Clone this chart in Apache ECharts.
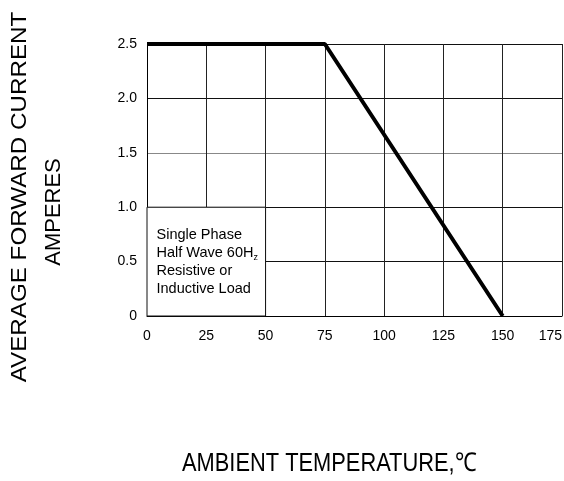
<!DOCTYPE html>
<html>
<head>
<meta charset="utf-8">
<script src="https://cdn.jsdelivr.net/npm/echarts@6/dist/echarts.min.js"></script>
<style>
html,body{margin:0;padding:0;background:#fff;}
#chart{width:564px;height:481px;}
</style>
</head>
<body>
<div id="chart"></div>
<script>
// Data
const tempPoints = [0, 75, 150];
const currentValues = [2.5, 2.5, 0];
const xTicks = [0, 25, 50, 75, 100, 125, 150, 175];
const yTicks = [0, 0.5, 1.0, 1.5, 2.0, 2.5];
const yTickLabels = ['0', '0.5', '1.0', '1.5', '2.0', '2.5'];
const noteLines = ['Single Phase', 'Half Wave 60H{s|z}', 'Resistive or', 'Inductive Load'];
const yTitle1 = 'AVERAGE FORWARD CURRENT';
const yTitle2 = 'AMPERES';
const xTitle = 'AMBIENT TEMPERATURE,\u2103';

const chart = echarts.init(document.getElementById('chart'));
const font = 'Arial, "Liberation Sans", sans-serif';

chart.setOption({
  animation: false,
  backgroundColor: '#fff',
  grid: { left: 147, right: 2, top: 44, bottom: 165, containLabel: false, outerBoundsMode: 'none' },
  xAxis: {
    type: 'value',
    min: xTicks[0],
    max: xTicks[xTicks.length - 1],
    interval: 25,
    axisLine: { show: true, lineStyle: { color: '#000', width: 1 } },
    axisTick: { show: false },
    axisLabel: { color: '#000', fontSize: 14, fontFamily: font, margin: 13, alignMaxLabel: 'right' },
    splitLine: { show: true, lineStyle: { color: '#222', width: 1 } }
  },
  yAxis: {
    type: 'value',
    min: yTicks[0],
    max: yTicks[yTicks.length - 1],
    interval: 0.5,
    axisLine: { show: true, lineStyle: { color: '#000', width: 1 } },
    axisTick: { show: false },
    axisLabel: {
      color: '#000', fontSize: 14, fontFamily: font, margin: 10,
      formatter: function (v) {
        const i = yTicks.findIndex(t => Math.abs(t - v) < 1e-9);
        return i >= 0 ? yTickLabels[i] : '';
      }
    },
    splitLine: { show: true, lineStyle: { color: ['#000', '#111', '#111', '#888', '#111', '#111'], width: 1 } }
  },
  series: [{
    type: 'line',
    data: tempPoints.map((t, i) => [t, currentValues[i]]),
    symbol: 'none',
    clip: false,
    lineStyle: { color: '#000', width: 4 },
    markArea: {
      silent: true,
      itemStyle: { color: '#fff', borderColor: '#111', borderWidth: 1, opacity: 1 },
      label: {
        show: true,
        position: 'insideLeft',
        distance: 10,
        color: '#000',
        fontSize: 14.5,
        fontFamily: font,
        lineHeight: 18,
        formatter: noteLines.join('\n'),
        rich: {
          s: { fontSize: 9, fontFamily: font, color: '#000', verticalAlign: 'bottom', lineHeight: 18, padding: [6, 0, 0, 0] }
        }
      },
      data: [[{ xAxis: 0, yAxis: 0 }, { xAxis: 50, yAxis: 1.0 }]]
    }
  }],
  graphic: [
    {
      type: 'text', x: 20, y: 197, rotation: Math.PI / 2, scaleX: 1.1,
      style: { text: yTitle1, font: '22px Arial, "Liberation Sans", sans-serif', fill: '#000', textAlign: 'center', textVerticalAlign: 'middle' }
    },
    {
      type: 'text', x: 54, y: 212, rotation: Math.PI / 2,
      style: { text: yTitle2, font: '22px Arial, "Liberation Sans", sans-serif', fill: '#000', textAlign: 'center', textVerticalAlign: 'middle' }
    },
    {
      type: 'text', x: 182, y: 464, scaleX: 0.84,
      style: { text: xTitle, font: '26px Arial, "Liberation Sans", sans-serif', fill: '#000', textAlign: 'left', textVerticalAlign: 'middle' }
    }
  ]
});
</script>
</body>
</html>
